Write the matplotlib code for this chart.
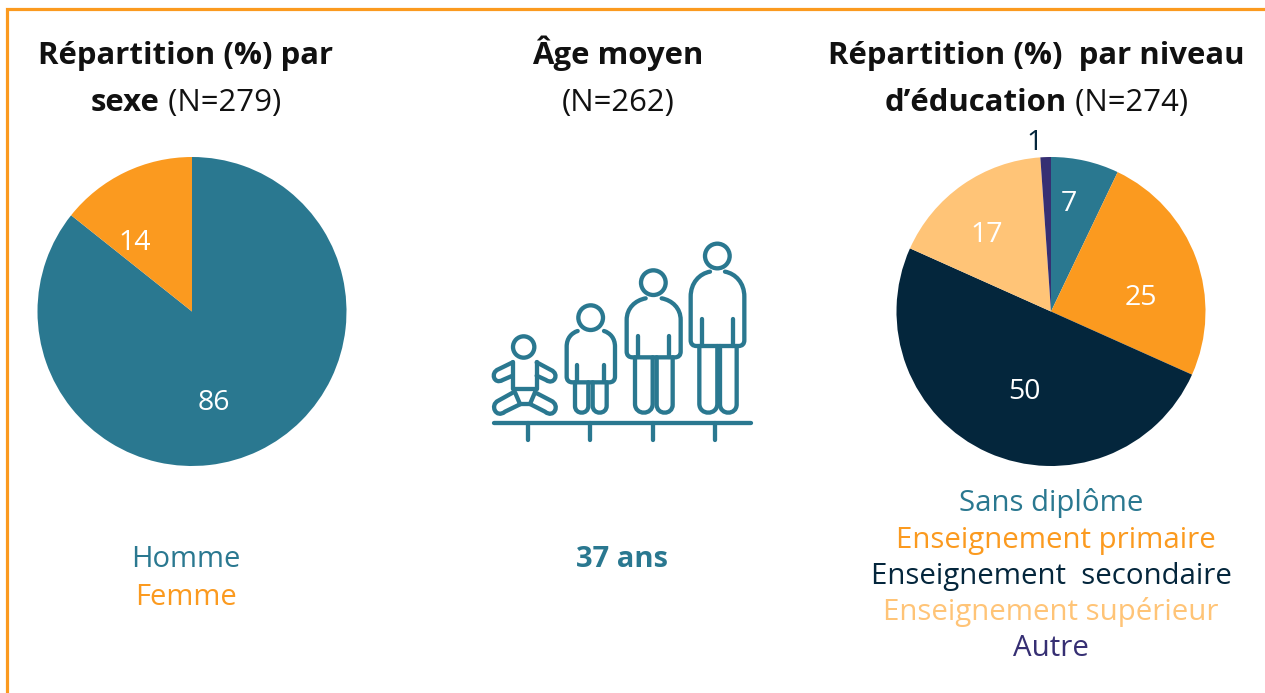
import matplotlib
matplotlib.use("Agg")
import matplotlib.pyplot as plt
from matplotlib.path import Path
from matplotlib.patches import PathPatch, Circle

plt.rcParams["font.family"] = ["Open Sans", "DejaVu Sans"]

W, H = 1265, 693

TEAL = "#2A7890"
ORANGE = "#FB9A1F"
NAVY = "#04263C"
PEACH = "#FFC477"
PURPLE = "#362F73"

sexe_labels = ["Homme", "Femme"]
sexe_values = [85.7, 14.3]
sexe_colors = [TEAL, ORANGE]

edu_labels = ["Sans diplôme", "Enseignement primaire", "Enseignement  secondaire",
              "Enseignement supérieur", "Autre"]
edu_values = [7.1, 24.6, 50.0, 17.2, 1.1]
edu_colors = [TEAL, ORANGE, NAVY, PEACH, PURPLE]

age_text = "37 ans"

fig = plt.figure(figsize=(W / 100, H / 100), dpi=100, facecolor="white")

# overlay in pixel coordinates, y pointing down like the screenshot
ov = fig.add_axes([0, 0, 1, 1], zorder=3)
ov.set_xlim(0, W)
ov.set_ylim(H, 0)
ov.axis("off")
ov.patch.set_alpha(0)


def pie_axes(cx, cy, r):
    ax = fig.add_axes([(cx - r) / W, 1 - (cy + r) / H, 2 * r / W, 2 * r / H], zorder=1)
    return ax


def mixed_line(cx, y, parts, size=22.4):
    # centre a line made of bold + regular runs
    rend = fig.canvas.get_renderer()
    items = [ov.text(0, y, s, fontsize=size, fontweight=w, color="#111111",
                     ha="left", va="baseline") for s, w in parts]
    widths = []
    for s, w in parts:
        # trailing spaces are not measured, so add a dot and take it off again
        probe = ov.text(0, y, s + ".", fontsize=size, fontweight=w)
        dot = ov.text(0, y, ".", fontsize=size, fontweight=w)
        widths.append(probe.get_window_extent(rend).width - dot.get_window_extent(rend).width)
        probe.remove()
        dot.remove()
    x = cx - sum(widths) / 2
    for t, wd in zip(items, widths):
        t.set_x(x)
        x += wd


# pies
ax1 = pie_axes(192, 311.5, 154.5)
ax1.pie(sexe_values, colors=sexe_colors, startangle=90, counterclock=False, radius=1)
ax1.set_xlim(-1, 1)
ax1.set_ylim(-1, 1)

ax2 = pie_axes(1051, 311.5, 154.5)
ax2.pie(edu_values, colors=edu_colors, startangle=90, counterclock=False, radius=1)
ax2.set_xlim(-1, 1)
ax2.set_ylim(-1, 1)

# value labels
for val, x, y, col in zip(sexe_values, [214, 135], [403, 243], ["white", "white"]):
    ov.text(x, y, f"{val:.0f}", fontsize=20.5, color=col, ha="center", va="center")
for val, x, y, col in zip(edu_values, [1069, 1141, 1024, 987, 1035], [204, 298, 392, 235, 143],
                          ["white", "white", "white", "white", NAVY]):
    ov.text(x, y, f"{val:.0f}", fontsize=20.5, color=col, ha="center", va="center")

# titles
mixed_line(186, 64, [("Répartition (%) par", "bold")])
mixed_line(186, 111, [("sexe", "bold"), (" (N=279)", "normal")])
mixed_line(618, 64, [("Âge moyen", "bold")])
mixed_line(618, 111, [("(N=262)", "normal")])
mixed_line(1036, 64, [("Répartition (%)  par niveau", "bold")])
mixed_line(1036, 111, [("d’éducation", "bold"), (" (N=274)", "normal")])

# legends as coloured words
for lab, col, y in zip(sexe_labels, sexe_colors, [567, 605]):
    ov.text(186, y, lab, fontsize=21, color=col, ha="center", va="baseline")
for lab, col, x, y in zip(edu_labels, edu_colors, [1051, 1056, 1051, 1051, 1051],
                          [511, 548, 584, 620, 656]):
    ov.text(x, y, lab, fontsize=21.2, color=col, ha="center", va="baseline")
ov.text(622, 567, age_text, fontsize=21, fontweight="bold", color=TEAL, ha="center", va="baseline")

# orange frame, left and top only
ov.plot([7, 7, W], [H, 9, 9], color=ORANGE, lw=2.3, solid_joinstyle="miter", clip_on=False)


# people icon, outlines (3x crop starting at 480,230)
def px(p):
    return (480 + p[0] / 3, 230 + p[1] / 3)


def stroke(verts, codes=None):
    verts = [px(v) for v in verts]
    if codes is None:
        codes = [Path.MOVETO] + [Path.LINETO] * (len(verts) - 1)
    ov.add_patch(PathPatch(Path(verts, codes), fill=False, edgecolor=TEAL, lw=3.1,
                           capstyle="round", joinstyle="round"))


def head(cx, cy, r):
    c = px((cx, cy))
    ov.add_patch(Circle(c, r / 3, fill=False, edgecolor=TEAL, lw=3.1))


def person(hx, hy, hr, sl, sr, st, wl, wr, ws, bot, arm_l, arm_r, arm_top, legs, foot):
    head(hx, hy, hr)
    M, L, C = Path.MOVETO, Path.LINETO, Path.CURVE4
    kx = 0.55 * (sl - wl)
    ky = 0.55 * (ws - st)
    stroke([(sl, st), (sl - kx, st + 6), (wl, ws - ky), (wl, ws), (wl, bot - 18),
            (wl, bot - 6), (wl + 6, bot), (wl + 18, bot), (wr - 18, bot),
            (wr - 6, bot), (wr, bot - 6), (wr, bot - 18), (wr, ws),
            (wr, ws - ky), (sr + kx, st + 6), (sr, st)],
           [M, C, C, C, L, C, C, C, L, C, C, C, L, C, C, C])
    stroke([(arm_l, arm_top), (arm_l, bot)])
    stroke([(arm_r, arm_top), (arm_r, bot)])
    for a, b in legs:
        r = (b - a) / 2
        stroke([(a, bot), (a, foot - r), (a, foot + r * 0.33), (b, foot + r * 0.33),
                (b, foot - r), (b, bot)], [M, L, C, C, C, L])


person(712, 78, 37, 690, 735, 125, 632, 793, 200, 348, 665, 760, 268,
       [(658, 712), (720, 770)], 548)
person(520, 158, 37, 497, 545, 205, 440, 602, 270, 382, 474, 568, 318,
       [(465, 518), (530, 578)], 548)
person(332, 263, 37, 293, 372, 303, 260, 405, 350, 457, 292, 372, 405,
       [(285, 325), (338, 380)], 548)

# baby
head(131, 351, 32)
stroke([(98, 395), (98, 478), (170, 478), (170, 395)])
M, L, C = Path.MOVETO, Path.LINETO, Path.CURVE4
stroke([(98, 397), (55, 418), (30, 428), (42, 465), (68, 450), (98, 437)], [M, L, C, C, C, L])
stroke([(170, 397), (213, 420), (240, 432), (222, 467), (198, 450), (170, 437)], [M, L, C, C, C, L])
stroke([(100, 487), (55, 512), (28, 525), (48, 567), (75, 545), (122, 522)], [M, L, C, C, C, L])
stroke([(165, 487), (213, 512), (242, 525), (222, 567), (195, 545), (150, 522)], [M, L, C, C, C, L])
stroke([(105, 487), (120, 522), (150, 522), (165, 487)])

# shelf with ticks
stroke([(42, 578), (812, 578)])
for x in [143, 331, 518, 705]:
    stroke([(x, 578), (x, 630)])

fig.savefig("out.png", dpi=100)
